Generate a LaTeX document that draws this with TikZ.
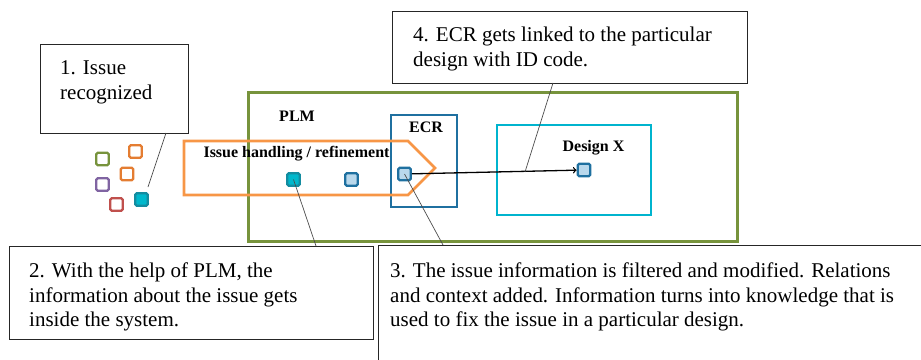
\documentclass[tikz,border=0pt]{standalone}
\usepackage{fontspec}
\setmainfont{Liberation Serif}
\definecolor{plmgreen}{RGB}{119,147,60}
\definecolor{ecrblue}{RGB}{31,112,160}
\definecolor{designcyan}{RGB}{0,180,206}
\definecolor{floworange}{RGB}{247,150,70}
\definecolor{sqorange}{RGB}{228,125,50}
\definecolor{sqpurple}{RGB}{128,100,162}
\definecolor{sqred}{RGB}{192,80,77}
\definecolor{sqcyan}{RGB}{0,184,204}
\definecolor{sqdark}{RGB}{20,140,160}
\definecolor{sqlight}{RGB}{185,216,236}
\tikzset{
  note/.style={draw=black!85, line width=1.2pt, anchor=north west, inner sep=0pt},
  notetext/.style={anchor=north west, inner sep=0pt, align=left, font=\fontsize{21}{24.5}\selectfont},
  lbl/.style={anchor=base, inner sep=0pt, font=\fontsize{16}{19}\selectfont\bfseries},
  sq/.style={draw=#1, fill=white, line width=2.4pt, rounded corners=1.5pt, minimum size=12.5pt, inner sep=0pt},
  leader/.style={draw=black!70, line width=0.7pt},
}
\begin{document}
\begin{tikzpicture}[x=1pt,y=-1pt]
\path[use as bounding box, clip] (0,0) rectangle (921,359);
% PLM frame, ECR and design
\node [draw=plmgreen, line width=2.6pt, anchor=north west, minimum width=489pt, minimum height=149pt] (plmbox) at (247,91) {};
\node [draw=ecrblue, line width=2.4pt, anchor=north west, minimum width=66pt, minimum height=92pt] (ecrbox) at (390,114) {};
\node [draw=designcyan, line width=2.4pt, anchor=north west, minimum width=154pt, minimum height=90pt] (designbox) at (496,124) {};
\draw [floworange, line width=2.8pt, line join=miter] (184,141) -- (408,141) -- (435,168) -- (408,195) -- (184,195) -- cycle;
\node [lbl] (plm) at (297,121) {PLM};
\node [lbl] (ecr) at (426,132) {ECR};
\node [lbl] (flow) at (296.5,157) {Issue handling / refinement};
\node [lbl] (design) at (593.5,151) {Design X};
% loose issues
\node [sq=plmgreen] (qg) at (102.5,159) {};
\node [sq=sqorange] (qo) at (135.5,151.5) {};
\node [sq=sqorange] (qm) at (127,174) {};
\node [sq=sqpurple] (qp) at (102.5,184.5) {};
\node [sq=sqred] (qr) at (116.5,204.5) {};
\node [sq=sqdark, fill=sqcyan] (qi) at (141.5,199.5) {};
% issue inside PLM
\node [sq=sqdark, fill=sqcyan] (qin) at (293.5,179.5) {};
\node [sq=ecrblue, fill=sqlight] (qmid) at (351.5,179.5) {};
\node [sq=ecrblue, fill=sqlight] (qecr) at (404.5,174) {};
\node [sq=ecrblue, fill=sqlight] (qdes) at (584,170) {};
\draw [->, line width=1.3pt] (qecr) -- (qdes);
% notes
\node [note, minimum width=148pt, minimum height=89pt] (b1) at (40,44) {};
\node [notetext] (t1) at (60,60.7) {1. Issue\\recognized};
\node [note, minimum width=355pt, minimum height=72pt] (b4) at (392,11) {};
\node [notetext] (t4) at (413,27.2) {4. ECR gets linked to the particular\\design with ID code.};
\node [note, minimum width=364pt, minimum height=93pt] (b2) at (9,246) {};
\node [notetext] (t2) at (29,262.7) {2. With the help of PLM, the\\information about the issue gets\\inside the system.};
\node [note, minimum width=560pt, minimum height=140pt] (b3) at (378,245) {};
\node [notetext] (t3) at (390,262.7) {3. The issue information is filtered and modified. Relations\\and context added. Information turns into knowledge that is\\used to fix the issue in a particular design.};
% leaders
\coordinate (e1) at (166,133);
\coordinate (f1) at (148,187);
\coordinate (e2) at (316,246);
\coordinate (e3) at (443,245);
\coordinate (e4) at (553,83);
\coordinate (f4) at (525,172);
\draw [leader] (e1) -- (f1);
\draw [leader] (qin.center) -- (e2);
\draw [leader] (qecr.center) -- (e3);
\draw [leader] (e4) -- (f4);
\end{tikzpicture}
\end{document}
